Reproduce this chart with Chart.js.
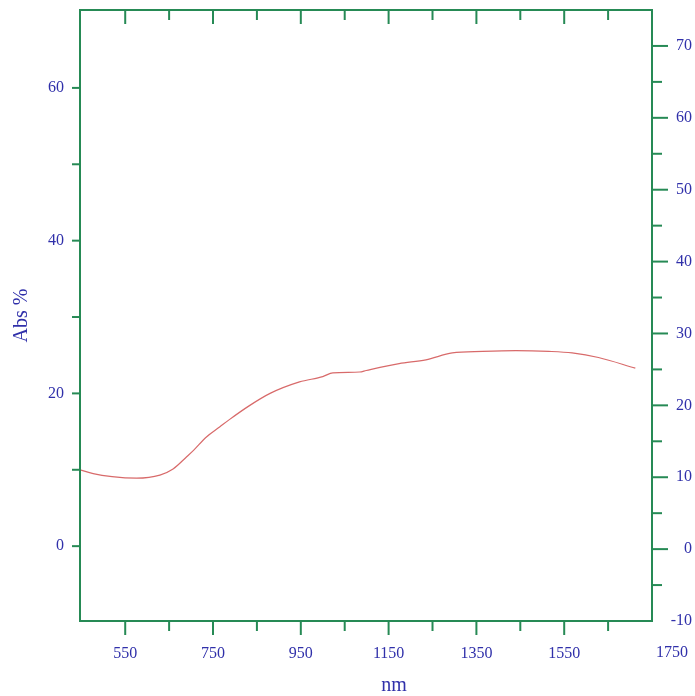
<!DOCTYPE html>
<html>
<head>
  <meta charset="UTF-8">
  <title>Abs % vs nm</title>
  <script src="https://cdn.jsdelivr.net/npm/chart.js"></script>
  <style>
    body { margin: 0; background: #ffffff; }
    #box { width: 695px; height: 696px; }
  </style>
</head>
<body>
  <div id="box"><canvas id="grafico" width="695" height="696"></canvas></div>

  <script>
    // curve
    const wavelength = [447, 477, 520, 576, 629, 659, 690, 705, 735, 765, 788, 833, 880, 947, 1000, 1023, 1084, 1099, 1174, 1235, 1295, 1364, 1440, 1515, 1568, 1628, 1712];
    const absorbance = [10.0, 9.5, 9.1, 8.9, 9.3, 10.1, 11.7, 12.5, 14.3, 15.6, 16.6, 18.4, 20.0, 21.5, 22.2, 22.7, 22.8, 23.0, 23.9, 24.4, 25.3, 25.5, 25.6, 25.5, 25.3, 24.7, 23.3];

    // ticks
    const xMajor = [550, 750, 950, 1150, 1350, 1550, 1750];
    const xMinor = [650, 850, 1050, 1250, 1450, 1650];
    const yLeftMajor = [0, 20, 40, 60];
    const yLeftMinor = [10, 30, 50];
    const yRightMajor = [-10, 0, 10, 20, 30, 40, 50, 60, 70];
    const yRightMinor = [-5, 5, 15, 25, 35, 45, 55, 65];

    const green = '#268a55';
    const blue = '#3030aa';
    const serif = "'Liberation Serif', 'Times New Roman', serif";

    // no automatic label padding, the frame is placed by hand
    const noPad = s => { s.paddingTop = 0; s.paddingBottom = 0; s.paddingLeft = 0; s.paddingRight = 0; };

    const frameAndTicks = {
      id: 'frameAndTicks',
      afterDraw(chart) {
        const { ctx, chartArea: a, scales } = chart;
        const seg = (x1, y1, x2, y2) => { ctx.beginPath(); ctx.moveTo(x1, y1); ctx.lineTo(x2, y2); ctx.stroke(); };
        ctx.save();
        ctx.strokeStyle = green;
        ctx.lineWidth = 2;
        ctx.strokeRect(a.left, a.top, a.right - a.left, a.bottom - a.top);

        xMajor.filter(v => v < 1750).forEach(v => {
          const x = scales.x.getPixelForValue(v);
          seg(x, a.bottom, x, a.bottom + 14);
          seg(x, a.top, x, a.top + 14);
        });
        xMinor.forEach(v => {
          const x = scales.x.getPixelForValue(v);
          seg(x, a.bottom, x, a.bottom + 10);
          seg(x, a.top, x, a.top + 10);
        });
        yLeftMajor.concat(yLeftMinor).forEach(v => {
          const y = scales.y.getPixelForValue(v);
          seg(a.left - 8, y, a.left, y);
        });
        yRightMajor.filter(v => v > -10).forEach(v => {
          const y = scales.y2.getPixelForValue(v);
          seg(a.right, y, a.right + 16, y);
        });
        yRightMinor.forEach(v => {
          const y = scales.y2.getPixelForValue(v);
          seg(a.right, y, a.right + 10, y);
        });

        // last x label sits right of the frame, and the axis name is off centre
        ctx.fillStyle = blue;
        ctx.textAlign = 'center';
        ctx.textBaseline = 'middle';
        ctx.font = '16px ' + serif;
        ctx.fillText('1750', scales.x.getPixelForValue(1750) + 20, 653);
        ctx.font = '20px ' + serif;
        ctx.fillText('nm', 394, 686);
        ctx.restore();
      }
    };

    new Chart(document.getElementById('grafico'), {
      type: 'line',
      data: {
        datasets: [{
          data: wavelength.map((w, i) => ({ x: w, y: absorbance[i] })),
          borderColor: '#d86a6a',
          borderWidth: 1.2,
          pointRadius: 0,
          cubicInterpolationMode: 'monotone',
          fill: false
        }]
      },
      options: {
        responsive: false,
        animation: false,
        layout: { padding: { top: 10, left: 0, right: 3, bottom: 0 } },
        plugins: { legend: { display: false }, tooltip: { enabled: false } },
        scales: {
          x: {
            type: 'linear',
            position: 'bottom',
            min: 447,
            max: 1750,
            grid: { display: false, drawTicks: false },
            border: { display: false },
            afterBuildTicks: s => { s.ticks = xMajor.filter(v => v < 1750).map(v => ({ value: v })); },
            afterFit: s => { s.height = 75; noPad(s); },
            ticks: {
              color: blue,
              padding: 23,
              maxRotation: 0,
              font: { family: serif, size: 16 },
              callback: v => String(v)
            }
          },
          y: {
            position: 'left',
            min: -9.8,
            max: 70.2,
            grid: { display: false, drawTicks: false },
            border: { display: false },
            afterBuildTicks: s => { s.ticks = yLeftMajor.map(v => ({ value: v })); },
            afterFit: s => { s.width = 80; noPad(s); },
            ticks: {
              color: blue,
              padding: 16,
              font: { family: serif, size: 16 },
              callback: v => String(v)
            },
            title: {
              display: true,
              text: 'Abs %',
              color: blue,
              padding: { top: 10, bottom: 0 },
              font: { family: serif, size: 20 }
            }
          },
          y2: {
            position: 'right',
            min: -10,
            max: 75,
            grid: { display: false, drawTicks: false },
            border: { display: false },
            afterBuildTicks: s => { s.ticks = yRightMajor.map(v => ({ value: v })); },
            afterFit: s => { s.width = 40; noPad(s); },
            ticks: {
              color: blue,
              padding: 24,
              crossAlign: 'far',
              font: { family: serif, size: 16 },
              callback: v => String(v)
            }
          }
        }
      },
      plugins: [frameAndTicks]
    });
  </script>
</body>
</html>
